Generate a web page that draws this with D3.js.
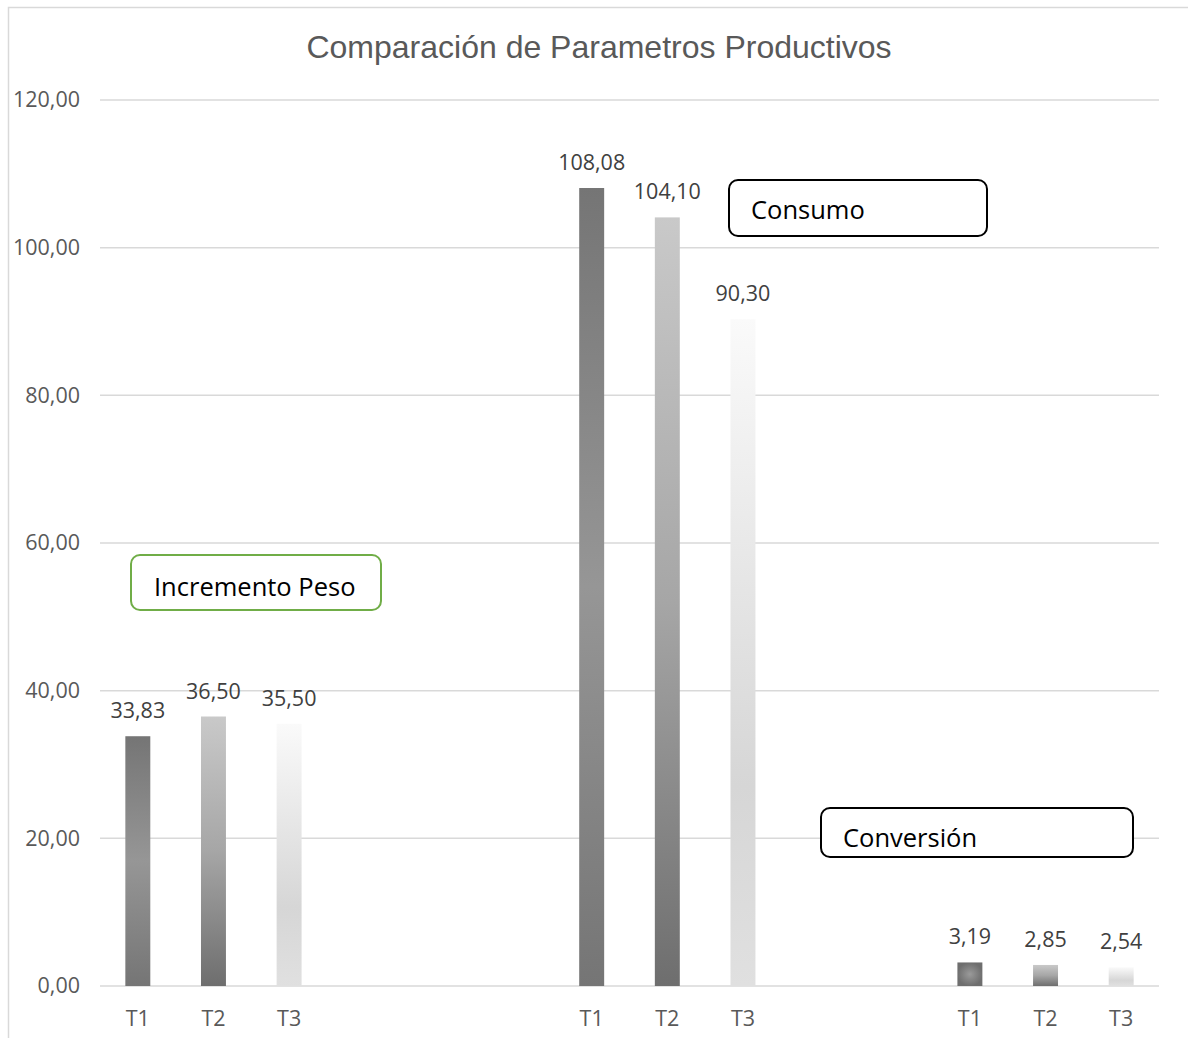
<!DOCTYPE html>
<html>
<head>
<meta charset="utf-8">
<script src="https://cdn.jsdelivr.net/npm/d3@7"></script>
<style>
  body { margin: 0; background: #fff; }
  svg text { font-family: "Open Sans", "Lato", sans-serif; }
</style>
</head>
<body>
<div id="chart"></div>
<script>
// Data
const categories = ["T1", "T2", "T3", "", "", "", "T1", "T2", "T3", "", "", "T1", "T2", "T3"];
const values = [33.83, 36.50, 35.50, null, null, null, 108.08, 104.10, 90.30, null, null, 3.19, 2.85, 2.54];
const yTicks = [0, 20, 40, 60, 80, 100, 120];
const groupNames = ["Incremento Peso", "Consumo", "Conversión"];
const title = "Comparación de Parametros Productivos";

const width = 1188;
const height = 1038;
const plot = { left: 100, right: 1159, top: 100, bottom: 986 };

const svg = d3.select("#chart").append("svg")
  .attr("width", width)
  .attr("height", height);

const defs = svg.append("defs");

// gradients used for T1 / T2 / T3 bars
const lin = (id, stops) => {
  const g = defs.append("linearGradient").attr("id", id)
    .attr("x1", 0).attr("y1", 0).attr("x2", 0).attr("y2", 1);
  stops.forEach(s => g.append("stop").attr("offset", s[0]).attr("stop-color", s[1]));
};
lin("gT1", [[0, "#757575"], [0.5, "#969696"], [1, "#757575"]]);
lin("gT2", [[0, "#c9c9c9"], [0.5, "#a6a6a6"], [1, "#6e6e6e"]]);
lin("gT3", [[0, "#fafafa"], [0.7, "#d6d6d6"], [1, "#e0e0e0"]]);
const rad = defs.append("radialGradient").attr("id", "gT1r");
rad.append("stop").attr("offset", 0).attr("stop-color", "#9a9a9a");
rad.append("stop").attr("offset", 1).attr("stop-color", "#6e6e6e");

// chart border
svg.append("path")
  .attr("d", `M8.5,${height} V7.5 H${width}`)
  .attr("fill", "none")
  .attr("stroke", "#d9d9d9")
  .attr("stroke-width", 1.5);

const x = d3.scaleBand()
  .domain(d3.range(categories.length))
  .range([plot.left, plot.right])
  .paddingInner(0.67)
  .paddingOuter(0.335);

const y = d3.scaleLinear()
  .domain([0, 120])
  .range([plot.bottom, plot.top]);

const locale = d3.formatLocale({ decimal: ",", thousands: ".", grouping: [3], currency: ["", "€"] });
const fmt = locale.format(".2f");

// gridlines
svg.append("g")
  .selectAll("line")
  .data(yTicks)
  .join("line")
  .attr("x1", plot.left)
  .attr("x2", plot.right)
  .attr("y1", d => y(d))
  .attr("y2", d => y(d))
  .attr("stroke", "#d9d9d9")
  .attr("stroke-width", 1.5);

// y axis labels
const yAxis = svg.append("g")
  .attr("transform", "translate(80,0)")
  .call(d3.axisLeft(y).tickValues(yTicks).tickFormat(fmt).tickSize(0).tickPadding(0));
yAxis.select(".domain").remove();
yAxis.selectAll("text")
  .attr("font-size", 21.5)
  .attr("fill", "#595959")
  .attr("font-family", "'Open Sans', sans-serif");

// x axis labels
const xAxis = svg.append("g")
  .attr("transform", `translate(0,${plot.bottom + 25})`)
  .call(d3.axisBottom(x).tickFormat(i => categories[i]).tickSize(0).tickPadding(0));
xAxis.select(".domain").remove();
xAxis.selectAll("text")
  .attr("font-size", 21.5)
  .attr("fill", "#595959")
  .attr("font-family", "'Open Sans', sans-serif");

const bars = values.map((v, i) => ({ i, v, cat: categories[i] })).filter(d => d.v !== null);

const fillFor = d => {
  if (d.cat === "T1") return d.v < 10 ? "url(#gT1r)" : "url(#gT1)";
  if (d.cat === "T2") return "url(#gT2)";
  return "url(#gT3)";
};

svg.append("g")
  .selectAll("rect")
  .data(bars)
  .join("rect")
  .attr("x", d => x(d.i))
  .attr("width", x.bandwidth())
  .attr("y", d => y(d.v))
  .attr("height", d => y(0) - y(d.v))
  .attr("fill", fillFor);

// value labels
svg.append("g")
  .selectAll("text")
  .data(bars)
  .join("text")
  .attr("x", d => x(d.i) + x.bandwidth() / 2)
  .attr("y", d => y(d.v) - 18)
  .attr("text-anchor", "middle")
  .attr("font-size", 21.5)
  .attr("fill", "#404040")
  .text(d => fmt(d.v));

// title
svg.append("text")
  .attr("x", 599)
  .attr("y", 58)
  .attr("text-anchor", "middle")
  .style("font-family", "'Liberation Sans', Arial, sans-serif")
  .attr("font-size", 32)
  .attr("fill", "#595959")
  .text(title);

// annotation boxes
const boxes = [
  { x: 131, y: 555, w: 250, h: 55, stroke: "#70ad47", tx: 154, ty: 596 },
  { x: 729, y: 180, w: 258, h: 56, stroke: "#000", tx: 751, ty: 219 },
  { x: 821, y: 808, w: 312, h: 49, stroke: "#000", tx: 843, ty: 847 }
];
boxes.forEach((b, k) => {
  svg.append("rect")
    .attr("x", b.x).attr("y", b.y)
    .attr("width", b.w).attr("height", b.h)
    .attr("rx", 9)
    .attr("fill", "#fff")
    .attr("stroke", b.stroke)
    .attr("stroke-width", 2);
  svg.append("text")
    .attr("x", b.tx).attr("y", b.ty)
    .attr("font-size", 25.5)
    .attr("fill", "#000")
    .text(groupNames[k]);
});
</script>
</body>
</html>
